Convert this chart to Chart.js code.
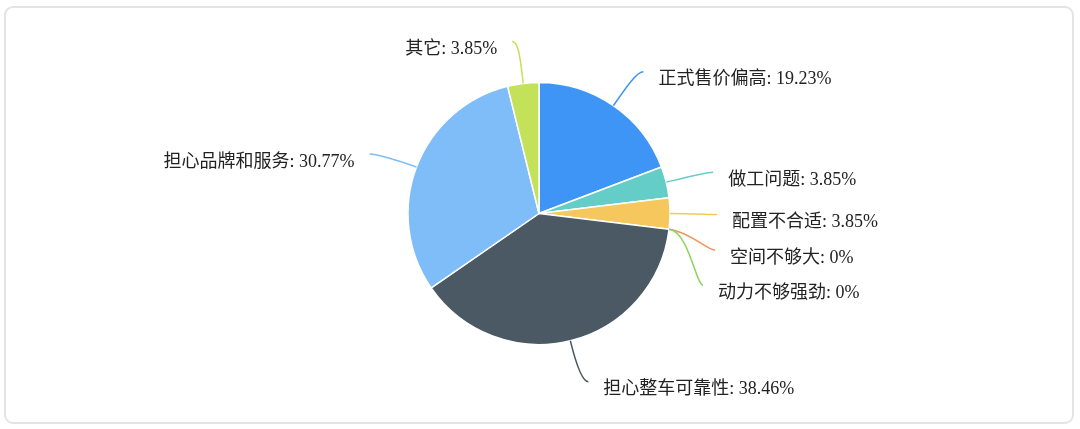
<!DOCTYPE html>
<html>
<head>
<meta charset="utf-8">
<script src="https://cdn.jsdelivr.net/npm/chart.js@4.4.0/dist/chart.umd.min.js"></script>
<style>
  html, body { margin: 0; padding: 0; background: #fff; }
  #wrap { position: relative; width: 1080px; height: 429px; }
  #card {
    position: absolute; left: 4px; top: 6px; width: 1066px; height: 414px;
    border: 2px solid #e4e4e4; border-radius: 9px;
  }
  #pie { position: absolute; left: 0; top: 0; }
</style>
</head>
<body>
<div id="wrap">
  <div id="card"></div>
  <canvas id="pie" width="1080" height="429"></canvas>
</div>
<script>
var categories = [
  "正式售价偏高",
  "做工问题",
  "配置不合适",
  "空间不够大",
  "动力不够强劲",
  "担心整车可靠性",
  "担心品牌和服务",
  "其它",
];
var shares = [19.23, 3.85, 3.85, 0, 0, 38.46, 30.77, 3.85];

var sliceColors = [
  "#3f95f6",
  "#64cdc8",
  "#f6c75c",
  "#f2935c",
  "#8dd35f",
  "#4a5963",
  "#7fbdf8",
  "#c4e15a",
];

// where each leader line ends, relative to the slice edge
var labelOffsets = [
  [30, -34],
  [47, -10],
  [47, 1],
  [46, 21],
  [34, 56],
  [18, 41],
  [-47, -13],
  [-11, -42],
];

var pieLabels = {
  id: "pieLabels",
  afterDatasetsDraw: function (chart) {
    var ctx = chart.ctx;
    var arcs = chart.getDatasetMeta(0).data;
    ctx.save();
    ctx.font = '18px "Liberation Serif", "Noto Sans CJK SC", serif';
    ctx.textBaseline = "middle";
    arcs.forEach(function (arc, i) {
      var p = arc.getProps(["x", "y", "startAngle", "endAngle", "outerRadius"], true);
      var mid = (p.startAngle + p.endAngle) / 2;
      var dx = Math.cos(mid), dy = Math.sin(mid);
      var sx = p.x + dx * p.outerRadius;
      var sy = p.y + dy * p.outerRadius;
      var ex = sx + labelOffsets[i][0];
      var ey = sy + labelOffsets[i][1];
      var dir = labelOffsets[i][0] >= 0 ? 1 : -1;

      ctx.beginPath();
      ctx.moveTo(sx, sy);
      ctx.bezierCurveTo(sx + dx * 20, sy + dy * 20, ex - dir * 7, ey, ex, ey);
      ctx.strokeStyle = sliceColors[i];
      ctx.lineWidth = 1.5;
      ctx.stroke();

      ctx.fillStyle = "#222";
      ctx.textAlign = dir > 0 ? "left" : "right";
      ctx.fillText(categories[i] + ": " + shares[i] + "%", ex + dir * 15, ey + 8);
    });
    ctx.restore();
  },
};

var ctx = document.getElementById("pie");
new Chart(ctx, {
  type: "pie",
  data: {
    labels: categories,
    datasets: [
      {
        data: shares,
        backgroundColor: sliceColors,
        borderColor: "#fff",
        borderWidth: 1.5,
      },
    ],
  },
  options: {
    responsive: false,
    animation: false,
    devicePixelRatio: 1,
    radius: 131,
    layout: {
      padding: { left: 408, right: 410, top: 83, bottom: 85 },
    },
    plugins: {
      legend: { display: false },
      tooltip: { enabled: false },
    },
  },
  plugins: [pieLabels],
});
</script>
</body>
</html>
